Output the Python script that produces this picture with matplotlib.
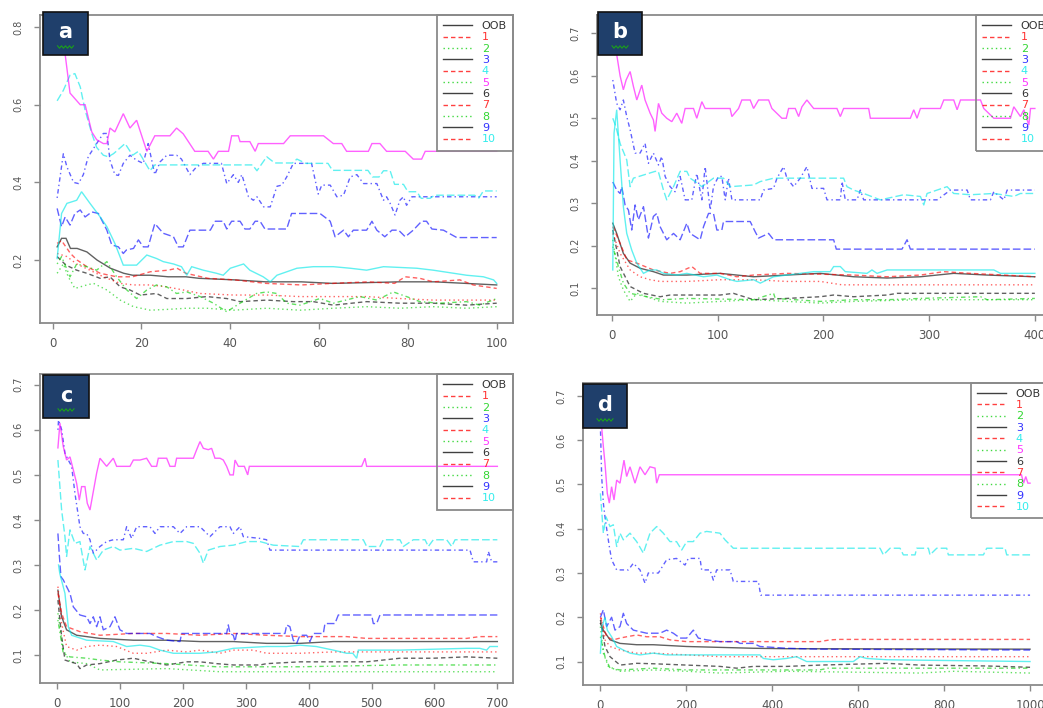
import matplotlib
matplotlib.use("Agg")
import matplotlib.pyplot as plt
from matplotlib.lines import Line2D
from matplotlib.patches import Rectangle
from matplotlib.ticker import FixedLocator, FixedFormatter

# ---------------------------------------------------------------------------
# Error-rate curves (OOB and per-class) against number of trees, four forests
# ---------------------------------------------------------------------------
SERIES = ["OOB", "1", "2", "3", "4", "5", "6", "7", "8", "9", "10"]

# ---- panel a : 100 trees ---------------------------------------------------
A_OOB = [(1,0.234),(2,0.256),(3,0.256),(4,0.23),(5.5,0.23),(7.7,0.221),(10,0.2),(13,0.179),(16,0.166),(18,0.161),(22,0.161),(26,0.157),(30,0.157),(33,0.153),(41,0.149),(48,0.144),(56,0.144),(63,0.14),(71,0.142),(78,0.144),(86,0.144),(93,0.14),(100,0.136)]
A_C1 = [(1,0.243),(2,0.25),(4,0.217),(5.5,0.2),(7.7,0.183),(10.7,0.166),(14.4,0.157),(18,0.157),(22,0.17),(26,0.174),(28,0.179),(30,0.166),(35,0.153),(41,0.149),(48,0.14),(56,0.136),(63,0.14),(71,0.144),(77,0.14),(79.4,0.157),(82.7,0.153),(85.7,0.144),(91.7,0.149),(94.7,0.136),(100,0.127)]
A_C2 = [(1,0.166),(2.4,0.19),(3.5,0.157),(5,0.127),(7.7,0.136),(9.2,0.14),(12.2,0.123),(15.2,0.097),(18.2,0.08),(22,0.071),(25.7,0.073),(30.2,0.076),(34.7,0.076),(40.7,0.071),(48.2,0.076),(55.7,0.071),(63.2,0.076),(70.7,0.08),(78.2,0.076),(85.7,0.08),(93.2,0.076),(100,0.08)]
A_C3 = [(1,0.36),(2.4,0.474),(3.2,0.44),(4.7,0.40),(5.8,0.397),(6.9,0.42),(8,0.466),(9.9,0.50),(11.4,0.526),(12.2,0.526),(12.9,0.457),(14,0.42),(14.8,0.418),(15.9,0.449),(17.4,0.47),(18.9,0.457),(20.4,0.449),(21.5,0.50),(23,0.42),(24.2,0.453),(25.7,0.47),(27.9,0.47),(29,0.46),(30.9,0.42),(32.4,0.44),(33.9,0.449),(38,0.449),(39.2,0.397),(40.7,0.42),(41.8,0.40),(42.6,0.42),(44.1,0.363),(45.2,0.354),(46,0.363),(47.5,0.337),(49,0.337),(50.5,0.39),(51.6,0.393),(52.7,0.414),(54.2,0.449),(58.3,0.449),(59.8,0.37),(60.6,0.393),(62.5,0.393),(64,0.363),(65.5,0.367),(67,0.414),(68.5,0.42),(70,0.397),(73,0.397),(74.5,0.354),(75.2,0.363),(76,0.346),(77.1,0.316),(78.2,0.354),(79,0.363),(79.7,0.341),(80.9,0.363),(100,0.363)]
A_C4 = [(1,0.61),(2.4,0.637),(3.9,0.676),(5,0.68),(6.2,0.646),(7.3,0.586),(8.8,0.526),(9.9,0.49),(11.4,0.47),(12.5,0.466),(13.7,0.474),(16.3,0.50),(18,0.47),(19.3,0.48),(21.9,0.43),(23,0.445),(33,0.445),(45,0.445),(46,0.43),(48.2,0.466),(50,0.45),(54,0.45),(55,0.46),(57,0.449),(62,0.449),(63,0.431),(71,0.431),(72,0.414),(73.5,0.414),(74.5,0.43),(76,0.43),(77,0.395),(79,0.395),(80,0.376),(82,0.376),(83,0.359),(85,0.359),(86,0.367),(95,0.367),(96,0.36),(97,0.378),(100,0.378)]
A_C5 = [(1,0.80),(2,0.77),(2.8,0.73),(3.9,0.63),(6.2,0.60),(7.3,0.60),(8.8,0.53),(9.9,0.51),(11.4,0.50),(12.2,0.50),(12.9,0.54),(14,0.53),(15.9,0.577),(17.4,0.54),(18.9,0.56),(21.2,0.48),(23,0.52),(26.4,0.52),(27.9,0.54),(29.4,0.525),(32,0.48),(35,0.48),(36.2,0.46),(37.3,0.48),(39.6,0.48),(40.3,0.52),(41.8,0.52),(42.2,0.505),(44.4,0.505),(45.6,0.48),(46.3,0.50),(52,0.50),(53.5,0.52),(61,0.52),(63.2,0.50),(65.1,0.50),(66.2,0.48),(71.1,0.48),(71.9,0.50),(73.7,0.50),(75.2,0.48),(79.4,0.48),(81.2,0.46),(83.1,0.46),(83.9,0.48),(100,0.48)]
A_C6 = [(1,0.209),(3,0.187),(5.4,0.174),(7.7,0.166),(10.7,0.153),(12.9,0.157),(15.2,0.131),(17.4,0.123),(19.7,0.11),(23.4,0.114),(25.7,0.101),(30.2,0.101),(34.7,0.106),(39.2,0.101),(42.2,0.093),(48.2,0.097),(54.2,0.093),(58.7,0.093),(63.2,0.084),(70.7,0.093),(78.2,0.089),(85.7,0.089),(93.2,0.084),(100,0.089)]
A_C7 = [(1,0.217),(3.2,0.209),(5.4,0.19),(8.4,0.174),(11.4,0.157),(15.2,0.14),(18.2,0.136),(22,0.136),(25.7,0.131),(29.4,0.123),(33.2,0.114),(40.7,0.11),(48.2,0.11),(55.7,0.106),(70.7,0.106),(78.2,0.101),(85.7,0.097),(100,0.097)]
A_C8 = [(1,0.19),(2,0.209),(3.9,0.157),(5.4,0.19),(7.7,0.183),(9.9,0.174),(12.2,0.196),(14.4,0.157),(16.7,0.123),(18.9,0.101),(21.2,0.123),(23.4,0.136),(25.7,0.131),(27.9,0.114),(30.2,0.118),(33.2,0.106),(36.2,0.089),(39.2,0.067),(42.2,0.089),(45.9,0.114),(48.2,0.118),(50.5,0.114),(52.7,0.089),(55.7,0.084),(60.2,0.101),(63.2,0.089),(69.2,0.106),(73,0.097),(76.7,0.118),(79.7,0.106),(82.7,0.093),(87.2,0.089),(93.2,0.093),(96.2,0.084),(100,0.101)]
A_C9 = [(1,0.333),(2,0.286),(2.8,0.311),(3.9,0.29),(5,0.32),(6.2,0.329),(7.3,0.311),(8.8,0.324),(10.3,0.32),(12.2,0.277),(13.3,0.239),(14.8,0.234),(15.9,0.217),(16.6,0.226),(18.2,0.23),(19.3,0.252),(20.4,0.234),(21.5,0.234),(23,0.294),(24.9,0.269),(27.2,0.26),(28.3,0.234),(29.4,0.234),(30.9,0.277),(35.5,0.277),(36.6,0.3),(38.4,0.3),(39.2,0.28),(40.3,0.3),(42.2,0.3),(43.3,0.28),(44.4,0.28),(45.6,0.3),(46.7,0.3),(47.8,0.28),(52.7,0.28),(53.8,0.32),(60.2,0.32),(62.5,0.3),(63.6,0.26),(65.5,0.277),(66.6,0.26),(67.7,0.277),(70.7,0.277),(71.9,0.3),(73,0.277),(74.8,0.26),(76.4,0.277),(77.9,0.277),(79.4,0.26),(81.2,0.277),(83.1,0.3),(84.2,0.3),(85.4,0.28),(88,0.277),(91,0.258),(100,0.258)]
A_C10 = [(1,0.204),(2,0.32),(3.2,0.346),(5.4,0.354),(6.5,0.376),(8.4,0.346),(10.7,0.311),(12.2,0.286),(14,0.243),(15.9,0.187),(18.9,0.187),(21.2,0.213),(23.4,0.204),(24.9,0.196),(27.2,0.19),(29,0.183),(30.2,0.161),(31.3,0.183),(33.9,0.174),(36.9,0.166),(38.4,0.161),(40,0.179),(43,0.19),(44.4,0.174),(47.4,0.157),(49,0.144),(50.5,0.161),(55,0.179),(58.7,0.183),(63.2,0.183),(67,0.179),(70.7,0.174),(74.5,0.183),(82,0.179),(85.7,0.174),(93.2,0.161),(97,0.157),(99.3,0.149),(100,0.14)]

# ---- panel b : 400 trees ---------------------------------------------------
B_OOB = [(1,0.253),(4.7,0.229),(11,0.182),(17.4,0.159),(26.8,0.147),(39.4,0.139),(48.9,0.131),(71,0.131),(102.5,0.135),(134.1,0.127),(165.6,0.131),(197.2,0.135),(228.7,0.127),(260.3,0.124),(291.8,0.127),(323.3,0.135),(354.9,0.131),(400,0.127)]
B_C1 = [(1,0.245),(7.9,0.206),(14.2,0.167),(23.7,0.159),(39.4,0.143),(55.2,0.135),(64.7,0.139),(75.7,0.151),(83.6,0.135),(102.5,0.135),(118.3,0.127),(134.1,0.131),(165.6,0.135),(228.7,0.131),(260.3,0.127),(291.8,0.131),(313.9,0.139),(339.1,0.135),(370.7,0.131),(400,0.127)]
B_C2 = [(1,0.214),(6.3,0.127),(11,0.096),(17.4,0.069),(23.7,0.088),(33.1,0.08),(45.7,0.069),(71,0.065),(102.5,0.069),(134.1,0.073),(165.6,0.069),(197.2,0.065),(228.7,0.069),(291.8,0.073),(400,0.073)]
B_C3 = [(1,0.59),(4.7,0.535),(7.9,0.52),(11,0.543),(14.2,0.504),(17.4,0.473),(22.1,0.418),(26.8,0.418),(31.5,0.441),(34.7,0.394),(39.4,0.418),(44.2,0.39),(47.3,0.41),(50.5,0.363),(55.2,0.339),(59.9,0.327),(64.7,0.363),(69.4,0.308),(75.7,0.308),(80.4,0.37),(85.2,0.308),(88.3,0.386),(93.1,0.284),(96.2,0.339),(100.9,0.363),(104.1,0.363),(107.3,0.308),(110.4,0.359),(113.6,0.308),(140.4,0.308),(143.5,0.331),(153,0.335),(156.2,0.359),(162.5,0.386),(165.6,0.359),(171.9,0.339),(178.2,0.359),(184.5,0.386),(189.3,0.335),(200.3,0.335),(203.5,0.308),(216.1,0.308),(217.7,0.351),(220.8,0.308),(231.9,0.308),(235,0.331),(238.2,0.308),(307.6,0.308),(320.2,0.331),(336,0.331),(339.1,0.308),(358,0.308),(361.2,0.327),(370.7,0.308),(373.8,0.331),(400,0.331)]
B_C4 = [(1,0.50),(4,0.48),(8,0.44),(14.2,0.402),(17.4,0.339),(20.5,0.359),(41,0.375),(44,0.375),(48.9,0.331),(52,0.308),(58.4,0.339),(64.7,0.375),(71,0.375),(74.1,0.359),(78.9,0.351),(85.2,0.339),(96.2,0.359),(105.7,0.359),(112,0.339),(134.1,0.343),(140.4,0.351),(153,0.359),(219.2,0.359),(222.4,0.339),(228.7,0.331),(238.2,0.323),(253.9,0.308),(276,0.32),(291.8,0.316),(295,0.296),(298.1,0.323),(317,0.339),(323.3,0.323),(339.1,0.32),(361.2,0.323),(380.1,0.316),(386.4,0.323),(400,0.323)]
B_C5 = [(1,0.70),(3,0.66),(4.7,0.65),(7.9,0.6),(11,0.567),(13.6,0.59),(17.4,0.61),(20.5,0.575),(23.7,0.543),(28.4,0.578),(31.5,0.543),(36.3,0.512),(39.4,0.496),(41,0.469),(44.2,0.535),(47.3,0.512),(52,0.5),(56.8,0.492),(61.5,0.512),(66.2,0.488),(69.4,0.523),(77.3,0.523),(80.4,0.5),(85.2,0.539),(88.3,0.523),(111.9,0.523),(113.6,0.504),(119.9,0.523),(123,0.543),(130.9,0.543),(134.1,0.523),(138.8,0.543),(148.3,0.543),(151.4,0.523),(160.9,0.5),(165,0.5),(167.2,0.523),(173.5,0.523),(176.7,0.504),(179.8,0.527),(184.5,0.543),(190.9,0.523),(212.9,0.523),(216.1,0.504),(219.2,0.523),(242.9,0.523),(244.5,0.5),(282.3,0.5),(285.5,0.52),(288.6,0.5),(291.8,0.523),(310.7,0.523),(313.9,0.543),(323.3,0.543),(326.5,0.52),(329.7,0.543),(348.6,0.543),(351.7,0.523),(361.2,0.5),(376.9,0.5),(380.1,0.527),(386.4,0.504),(389.6,0.52),(394.3,0.484),(395.9,0.523),(400,0.523)]
B_C6 = [(1,0.237),(7.9,0.151),(17.4,0.104),(30,0.088),(45.7,0.08),(55.2,0.084),(102.5,0.084),(115,0.088),(134.1,0.073),(165.6,0.076),(197.2,0.08),(209.8,0.084),(228.7,0.08),(260.3,0.084),(269.8,0.088),(400,0.088)]
B_C7 = [(1,0.229),(7.9,0.182),(17.4,0.143),(26.8,0.127),(36.3,0.12),(45.7,0.116),(71,0.116),(102.5,0.12),(134.1,0.12),(165.6,0.116),(197.2,0.116),(217.7,0.108),(400,0.108)]
B_C8 = [(1,0.198),(6.3,0.151),(11,0.112),(17.4,0.088),(33.1,0.08),(48.9,0.073),(71,0.076),(134.1,0.073),(153,0.088),(154.6,0.076),(197.2,0.069),(228.7,0.073),(260.3,0.073),(291.8,0.076),(348.6,0.08),(354.9,0.073),(400,0.076)]
B_C9 = [(1,0.35),(4.7,0.331),(7.9,0.323),(9.5,0.339),(12.6,0.296),(15.8,0.284),(18.9,0.237),(22.1,0.296),(25.2,0.261),(30,0.292),(34.7,0.218),(39.4,0.269),(42.6,0.276),(45.7,0.245),(52,0.214),(58.4,0.229),(64.7,0.214),(71,0.253),(74.1,0.229),(83.6,0.214),(86.8,0.245),(91.5,0.276),(96.2,0.276),(99.4,0.237),(104.1,0.237),(105.7,0.257),(130.9,0.257),(135.6,0.233),(138.8,0.218),(148.3,0.229),(153,0.214),(209.8,0.214),(212.3,0.192),(274.4,0.192),(279.2,0.214),(282.3,0.192),(400,0.192)]
B_C10 = [(1,0.143),(2.2,0.465),(4.7,0.52),(7.9,0.402),(11,0.292),(14.2,0.229),(18.9,0.19),(23.7,0.159),(30,0.135),(36.3,0.143),(42.6,0.143),(48.9,0.135),(61.5,0.131),(71,0.135),(86.8,0.127),(99.4,0.131),(112,0.12),(118.3,0.116),(134.1,0.12),(140.4,0.112),(153,0.127),(165.6,0.131),(190.9,0.139),(206.6,0.139),(209.8,0.151),(216.1,0.151),(220.8,0.139),(241.3,0.135),(246,0.143),(250.8,0.135),(260.3,0.143),(361.2,0.143),(367.5,0.135),(400,0.135)]

# ---- panel c : 700 trees ---------------------------------------------------
C_OOB = [(1,0.244),(6.9,0.185),(14.8,0.156),(30.8,0.144),(67.9,0.137),(121,0.133),(174,0.133),(227,0.13),(280,0.13),(333,0.126),(386,0.126),(439,0.13),(700,0.13)]
C_C1 = [(1,0.237),(6.9,0.193),(14.8,0.163),(36,0.152),(67.9,0.144),(121,0.148),(174,0.148),(227,0.144),(280,0.148),(333,0.144),(386,0.141),(460,0.141),(492,0.137),(651,0.137),(672,0.141),(700,0.141)]
C_C2 = [(1,0.193),(9.5,0.111),(20.2,0.085),(46.7,0.081),(67.9,0.067),(174,0.07),(258.8,0.063),(700,0.063)]
C_C3 = [(1,0.60),(2,0.622),(7,0.6),(12.2,0.548),(17.5,0.533),(22.8,0.519),(28.1,0.459),(36,0.385),(41.4,0.37),(46.7,0.37),(52,0.356),(57.3,0.326),(67.9,0.341),(78.5,0.352),(89.1,0.356),(105,0.356),(110.3,0.385),(118.3,0.359),(126.2,0.385),(147.4,0.385),(155.4,0.37),(163.3,0.385),(184.6,0.385),(195.2,0.37),(205.8,0.385),(227,0.385),(242.9,0.363),(258.8,0.385),(274.7,0.385),(280,0.37),(290.6,0.385),(295.9,0.363),(322.4,0.359),(333,0.356),(338.3,0.333),(656.5,0.333),(661.8,0.307),(683,0.307),(685.7,0.33),(691,0.307),(700,0.307)]
C_C4 = [(1,0.533),(6.9,0.422),(12.2,0.363),(14.8,0.319),(20.2,0.378),(28.1,0.348),(36,0.352),(44,0.289),(52,0.341),(62.6,0.311),(73.2,0.333),(89.1,0.341),(99.7,0.333),(121,0.337),(142.1,0.33),(163.3,0.344),(184.6,0.352),(205.8,0.352),(216.4,0.348),(227,0.326),(232.3,0.304),(240.2,0.333),(258.8,0.341),(280,0.344),(301.2,0.352),(322.4,0.352),(343.6,0.344),(386,0.341),(391.4,0.356),(486.8,0.356),(492.1,0.341),(513.3,0.341),(518.6,0.356),(545.1,0.356),(550.4,0.341),(566.3,0.356),(585,0.356),(590.2,0.341),(598.2,0.356),(619.4,0.356),(627.4,0.341),(632.7,0.356),(700,0.356)]
C_C5 = [(1,0.56),(4.2,0.615),(9.5,0.563),(14.8,0.533),(20.2,0.54),(25.5,0.511),(30.8,0.481),(35,0.444),(38.7,0.474),(44,0.474),(47.7,0.437),(52,0.422),(57.3,0.463),(62.6,0.504),(67.9,0.537),(78.5,0.519),(89.1,0.537),(94.4,0.519),(115.6,0.519),(121,0.533),(131.5,0.533),(142.1,0.537),(150.1,0.519),(158,0.519),(160.7,0.537),(174,0.537),(179.2,0.519),(187.2,0.519),(189.8,0.537),(216.4,0.537),(221.7,0.556),(227,0.574),(232.3,0.559),(240.2,0.556),(245.5,0.559),(250.8,0.537),(258.8,0.537),(264.1,0.533),(269.4,0.519),(274.7,0.5),(280,0.5),(282.7,0.533),(288,0.519),(297.6,0.519),(302.9,0.5),(305.5,0.519),(484.2,0.519),(489.5,0.537),(492.1,0.519),(700,0.519)]
C_C6 = [(1,0.222),(6.9,0.141),(12.2,0.089),(20.2,0.085),(30.8,0.081),(36,0.07),(46.7,0.078),(67.9,0.081),(94.4,0.089),(121,0.093),(147.4,0.085),(174,0.078),(205.8,0.085),(227,0.085),(253.5,0.081),(280,0.078),(322.4,0.078),(333,0.081),(386,0.085),(492,0.085),(545,0.093),(598,0.093),(651,0.096),(700,0.093)]
C_C7 = [(1,0.252),(6.9,0.17),(14.8,0.119),(30.8,0.111),(46.7,0.119),(67.9,0.122),(94.4,0.119),(121,0.104),(142.1,0.104),(174,0.111),(205.8,0.107),(227,0.111),(258.8,0.104),(280,0.111),(311.8,0.111),(333,0.104),(386,0.104),(439,0.107),(700,0.107)]
C_C8 = [(1,0.178),(9.5,0.104),(20.2,0.096),(46.7,0.093),(67.9,0.089),(99.7,0.085),(174,0.081),(253.5,0.074),(386,0.074),(545,0.078),(700,0.078)]
C_C9 = [(1,0.37),(3,0.326),(5.8,0.274),(9.5,0.267),(14.8,0.252),(20.2,0.237),(25.5,0.207),(36,0.189),(46.7,0.185),(52,0.17),(57.3,0.185),(62.6,0.163),(67.9,0.185),(73.2,0.156),(83.8,0.163),(91.7,0.185),(99.7,0.156),(110.3,0.148),(147.4,0.148),(158,0.141),(174,0.133),(195.2,0.13),(197.8,0.148),(269.4,0.148),(272,0.167),(274.7,0.148),(280,0.144),(282.7,0.13),(285.3,0.148),(362.2,0.148),(364.9,0.167),(370,0.163),(375.4,0.133),(380.8,0.126),(386,0.144),(396.7,0.144),(401.9,0.13),(407.3,0.148),(423.2,0.148),(425.8,0.17),(441.7,0.17),(447,0.189),(500,0.189),(502.7,0.17),(508,0.17),(513.3,0.189),(700,0.189)]
C_C10 = [(2,0.3),(4,0.281),(12.2,0.237),(17.5,0.163),(22.8,0.144),(46.7,0.133),(89.1,0.13),(110.3,0.119),(131.5,0.122),(147.4,0.119),(163.3,0.111),(184.6,0.104),(227,0.104),(253.5,0.107),(280,0.115),(333,0.119),(365,0.119),(386,0.122),(412,0.119),(439.1,0.111),(460.3,0.104),(470,0.104),(476.2,0.093),(478.9,0.111),(545,0.111),(651,0.115),(672,0.115),(683,0.111),(688,0.119),(700,0.119)]

# ---- panel d : 1000 trees --------------------------------------------------
D_OOB = [(1,0.186),(7.8,0.171),(23.3,0.149),(46.5,0.141),(85.3,0.138),(124,0.138),(201.6,0.134),(279,0.132),(356.6,0.13),(434,0.129),(1000,0.128)]
D_C1 = [(1,0.2),(7.8,0.179),(15.5,0.156),(31,0.149),(46.5,0.153),(62,0.156),(85.3,0.16),(108.5,0.156),(139.5,0.156),(162.8,0.149),(201.6,0.145),(511,0.145),(534.9,0.149),(558,0.15),(1000,0.15)]
D_C2 = [(1,0.179),(7.8,0.119),(19.4,0.089),(46.5,0.078),(124,0.081),(201.6,0.078),(279,0.074),(434,0.078),(744,0.074),(822,0.078),(1000,0.074)]
D_C3 = [(1,0.63),(3.9,0.518),(7.8,0.458),(11.6,0.427),(17,0.39),(21.7,0.36),(27,0.33),(38.8,0.307),(66,0.307),(77.5,0.322),(93,0.307),(104.7,0.277),(112.4,0.3),(135.7,0.3),(155,0.33),(178,0.333),(197.7,0.318),(205.4,0.333),(232.6,0.333),(236.4,0.307),(255.8,0.307),(263.6,0.284),(271.3,0.307),(302.3,0.307),(310,0.281),(368.2,0.281),(373.6,0.25),(1000,0.25)]
D_C4 = [(1,0.48),(7.8,0.39),(14,0.427),(23.3,0.405),(31,0.409),(38.8,0.36),(46.5,0.39),(54.3,0.375),(69.8,0.39),(85.3,0.371),(100.8,0.345),(116.3,0.39),(131.8,0.405),(147.3,0.39),(162.8,0.371),(178,0.371),(190,0.352),(201.6,0.371),(217,0.371),(232.6,0.39),(248,0.394),(279,0.39),(290.7,0.375),(310,0.356),(651.2,0.356),(659,0.341),(674.4,0.356),(697.7,0.356),(705.4,0.341),(732.6,0.341),(736.4,0.356),(763.6,0.356),(767.4,0.341),(783,0.356),(806.2,0.356),(810,0.341),(891.5,0.341),(899.2,0.356),(941.9,0.356),(945.7,0.341),(1000,0.341)]
D_C5 = [(1,0.66),(3.9,0.63),(7.8,0.586),(11.6,0.548),(17,0.48),(21.7,0.458),(27,0.495),(32.6,0.465),(38.8,0.51),(46.5,0.503),(55.8,0.555),(62,0.518),(69.8,0.54),(81.4,0.503),(93,0.54),(104.7,0.522),(116.3,0.54),(127.9,0.537),(131.8,0.503),(138,0.522),(980,0.522),(985,0.503),(990,0.518),(995,0.503),(1000,0.503)]
D_C6 = [(1,0.194),(11.6,0.134),(23.3,0.111),(46.5,0.092),(85.3,0.096),(124,0.095),(201.6,0.092),(279,0.089),(317.8,0.085),(356.6,0.089),(434,0.089),(511.6,0.092),(666.7,0.096),(744,0.092),(899,0.09),(1000,0.087)]
D_C7 = [(1,0.209),(11.6,0.149),(23.3,0.134),(46.5,0.126),(85.3,0.119),(124,0.119),(201.6,0.115),(279,0.111),(1000,0.111)]
D_C8 = [(1,0.156),(11.6,0.111),(23.3,0.085),(46.5,0.081),(124,0.085),(201.6,0.081),(511,0.081),(530,0.085),(1000,0.085)]
D_C9 = [(1,0.2),(7.8,0.217),(15.5,0.179),(27,0.2),(34.9,0.171),(46.5,0.179),(54.3,0.209),(62,0.186),(77.5,0.171),(108.5,0.164),(139.5,0.164),(155,0.171),(170.5,0.164),(186,0.153),(201.6,0.153),(217,0.171),(228.7,0.153),(248,0.149),(279,0.145),(317.8,0.145),(325.6,0.141),(356.6,0.141),(372,0.134),(434,0.13),(511.6,0.128),(1000,0.126)]
D_C10 = [(1,0.119),(5,0.179),(11.6,0.2),(17,0.171),(27,0.156),(38.8,0.134),(54.3,0.126),(69.8,0.119),(93,0.115),(124,0.119),(155,0.115),(372,0.115),(379.8,0.107),(403,0.104),(434,0.107),(457,0.111),(480.6,0.1),(589,0.1),(604.7,0.111),(620,0.107),(666.7,0.104),(1000,0.1)]

PANEL_DATA = {
    "a": [A_OOB, A_C1, A_C2, A_C3, A_C4, A_C5, A_C6, A_C7, A_C8, A_C9, A_C10],
    "b": [B_OOB, B_C1, B_C2, B_C3, B_C4, B_C5, B_C6, B_C7, B_C8, B_C9, B_C10],
    "c": [C_OOB, C_C1, C_C2, C_C3, C_C4, C_C5, C_C6, C_C7, C_C8, C_C9, C_C10],
    "d": [D_OOB, D_C1, D_C2, D_C3, D_C4, D_C5, D_C6, D_C7, D_C8, D_C9, D_C10],
}

A_XTICKS = [0, 20, 40, 60, 80, 100]
B_XTICKS = [0, 100, 200, 300, 400]
C_XTICKS = [0, 100, 200, 300, 400, 500, 600, 700]
D_XTICKS = [0, 200, 400, 600, 800, 1000]
A_YTICKS = [0.2, 0.4, 0.6, 0.8]
BCD_YTICKS = [0.1, 0.2, 0.3, 0.4, 0.5, 0.6, 0.7]

# ---------------------------------------------------------------------------
# styling: classic palette (col = 1:6) and line types (lty = 1:5), recycled
# ---------------------------------------------------------------------------
PALETTE = ["#000000", "#ff0000", "#00cd00", "#0000ff", "#00e8e8", "#ff00ff"]
LTYPES = ["-", (0, (3.2, 2.2)), (0, (1, 2.2)), (0, (1, 2.2, 3.2, 2.2)), (0, (5.5, 2.2))]
LINE_ALPHA = 0.62

W, H = 1043, 708


def fx(px):
    return px / W


def fy(py):
    return 1 - py / H


# axes boxes in pixels: left, top, right, bottom
LAYOUT = {
    "a": dict(box=(40, 15, 513, 323), xlim=(-2.86, 103.67), ylim=(0.038, 0.831),
              xticks=A_XTICKS, yticks=A_YTICKS),
    "b": dict(box=(596.7, 15, 1052, 315), xlim=(-14.2, 416.2), ylim=(0.037, 0.743),
              xticks=B_XTICKS, yticks=BCD_YTICKS),
    "c": dict(box=(40, 374, 513, 683), xlim=(-27.5, 724.9), ylim=(0.038, 0.724),
              xticks=C_XTICKS, yticks=BCD_YTICKS),
    "d": dict(box=(583.3, 382.7, 1047, 685), xlim=(-38.8, 1039.4), ylim=(0.047, 0.730),
              xticks=D_XTICKS, yticks=BCD_YTICKS),
}

# panel tag boxes in pixels: left, top, right, bottom
TAGS = {
    "a": (43, 12, 88, 55),
    "b": (598, 12, 642, 55),
    "c": (43, 375, 89, 418),
    "d": (583, 384, 627, 428),
}

fig = plt.figure(figsize=(W / 100, H / 100), dpi=100)
fig.patch.set_facecolor("white")

for key, cfg in LAYOUT.items():
    l, t, r, b = cfg["box"]
    ax = fig.add_axes([fx(l), fy(b), (r - l) / W, (b - t) / H])
    for i, series in enumerate(PANEL_DATA[key]):
        xs = [p[0] for p in series]
        ys = [p[1] for p in series]
        ax.plot(xs, ys, color=PALETTE[i % 6], linestyle=LTYPES[i % 5],
                linewidth=1.0, alpha=LINE_ALPHA, solid_joinstyle="miter")
    ax.set_xlim(*cfg["xlim"])
    ax.set_ylim(*cfg["ylim"])
    ax.xaxis.set_major_locator(FixedLocator(cfg["xticks"]))
    ax.xaxis.set_major_formatter(FixedFormatter([str(v) for v in cfg["xticks"]]))
    ax.yaxis.set_major_locator(FixedLocator(cfg["yticks"]))
    ax.yaxis.set_major_formatter(FixedFormatter([f"{v:.1f}" for v in cfg["yticks"]]))
    for sp in ax.spines.values():
        sp.set_color("#8a8a8a")
        sp.set_linewidth(1.3)
    ax.tick_params(axis="both", direction="out", length=4, width=1.0, color="#8a8a8a",
                   labelcolor="#555555")
    ax.tick_params(axis="x", labelsize=8.5, pad=6)
    ax.tick_params(axis="y", labelsize=7, pad=8)
    for lab in ax.get_yticklabels():
        lab.set_rotation(90)
        lab.set_va("center")
        lab.set_ha("right")

    # legend: sample lines cycle black / red / green with lty 1..3
    handles = [Line2D([], [], color=PALETTE[j % 3], linestyle=LTYPES[j % 3],
                      linewidth=1.0, alpha=0.75) for j in range(len(SERIES))]
    leg = ax.legend(handles, SERIES, loc="upper right", fontsize=8,
                    labelcolor=[PALETTE[j % 6] for j in range(len(SERIES))],
                    frameon=True, fancybox=False, edgecolor="#8a8a8a",
                    facecolor="none", framealpha=1, borderaxespad=0,
                    handlelength=2.6, handletextpad=0.9, labelspacing=0.12,
                    borderpad=0.55)
    leg.get_frame().set_linewidth(1.3)
    for txt in leg.get_texts():
        txt.set_alpha(0.8)

# panel tags
for key, (l, t, r, b) in TAGS.items():
    fig.add_artist(Rectangle((fx(l), fy(b)), (r - l) / W, (b - t) / H,
                             transform=fig.transFigure, facecolor="#1f3f6b",
                             edgecolor="#111111", linewidth=1.2, zorder=10))
    cx = (l + r) / 2
    fig.text(fx(cx), fy((t + b) / 2 - 1), key, color="white", fontsize=15,
             fontweight="bold", ha="center", va="center", zorder=11)
    zx = [cx - 8 + 2 * k for k in range(9)]
    zy = [b - 8 + (1.2 if k % 2 else -1.2) for k in range(9)]
    fig.add_artist(Line2D([fx(v) for v in zx], [fy(v) for v in zy],
                          transform=fig.transFigure, color="#1aa01a",
                          linewidth=0.8, zorder=11))

fig.savefig("out.png", dpi=100, facecolor="white")
